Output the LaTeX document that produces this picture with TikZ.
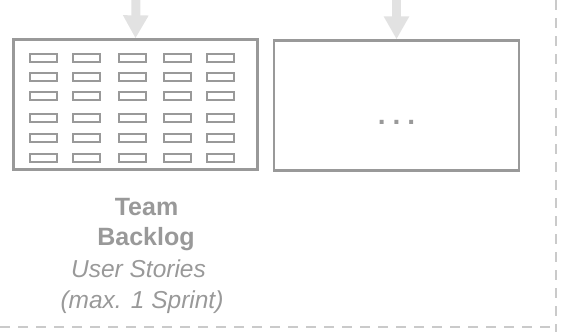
\documentclass[tikz,border=0pt]{standalone}
\usepackage{fontspec}
\setmainfont{Liberation Sans}
\usetikzlibrary{arrows.meta}
\definecolor{boxgray}{HTML}{999999}
\definecolor{arrowgray}{HTML}{E2E2E2}
\definecolor{dashgray}{HTML}{CACACA}
\tikzset{
  panel/.style={draw=boxgray, line width=2.3pt, rectangle, inner sep=0pt},
  story/.style={draw=boxgray, line width=2pt, rectangle, minimum width=27pt, minimum height=8pt, inner sep=0pt},
  feed/.style={draw=arrowgray, line width=9pt, -{Triangle[width=24pt,length=23pt]}},
  border/.style={draw=dashgray, line width=2.3pt, dash pattern=on 10pt off 8pt},
  caption/.style={text=boxgray, align=center, inner sep=0pt, anchor=base},
  strong/.style={caption, font=\fontsize{25}{30}\selectfont\bfseries},
  note/.style={caption, font=\fontsize{24.5}{29}\selectfont\itshape}
}
\begin{document}
\begin{tikzpicture}[x=1pt,y=-1pt]
  \useasboundingbox (0,0) rectangle (565,332);

  % the two backlog panels
  \node[panel, minimum width=244pt, minimum height=130pt] (team) at (135.5,104.5) {};
  \node[panel, minimum width=245pt, minimum height=130pt] (other) at (396.5,105.5) {};

  % story cards in the team backlog
  \foreach \cx [count=\i] in {43,86.5,132,177,220.5}
    \foreach \cy [count=\j] in {58,76.5,95.5,117.5,137.5,157.5}
      \node[story] (s-\i-\j) at (\cx,\cy) {};

  % placeholder in the second panel
  \node[text=boxgray, font=\fontsize{28}{28}\selectfont\bfseries, inner sep=0pt, anchor=base] (dots) at (396.5,124.5)
    {.\hspace{7pt}.\hspace{7pt}.};

  % incoming arrows from above
  \coordinate (inA) at (136,-2);
  \coordinate (inB) at (396.5,-2);
  \draw[feed] (inA) -- (team.north);
  \draw[feed] (inB) -- (other.north);

  % captions
  \node[strong] (t1) at (146.5,215) {Team};
  \node[strong] (t2) at (146,245.5) {Backlog};
  \node[note] (t3) at (138.5,277) {User Stories};
  \node[note] (t4) at (142,308) {(max. 1 Sprint)};

  % dashed frame edges
  \coordinate (fTop) at (556,0);
  \coordinate (fBottom) at (556,332);
  \coordinate (hLeft) at (0,327);
  \coordinate (hRight) at (552,327);
  \draw[border] (fTop) -- (fBottom);
  \draw[border] (hLeft) -- (hRight);
\end{tikzpicture}
\end{document}
